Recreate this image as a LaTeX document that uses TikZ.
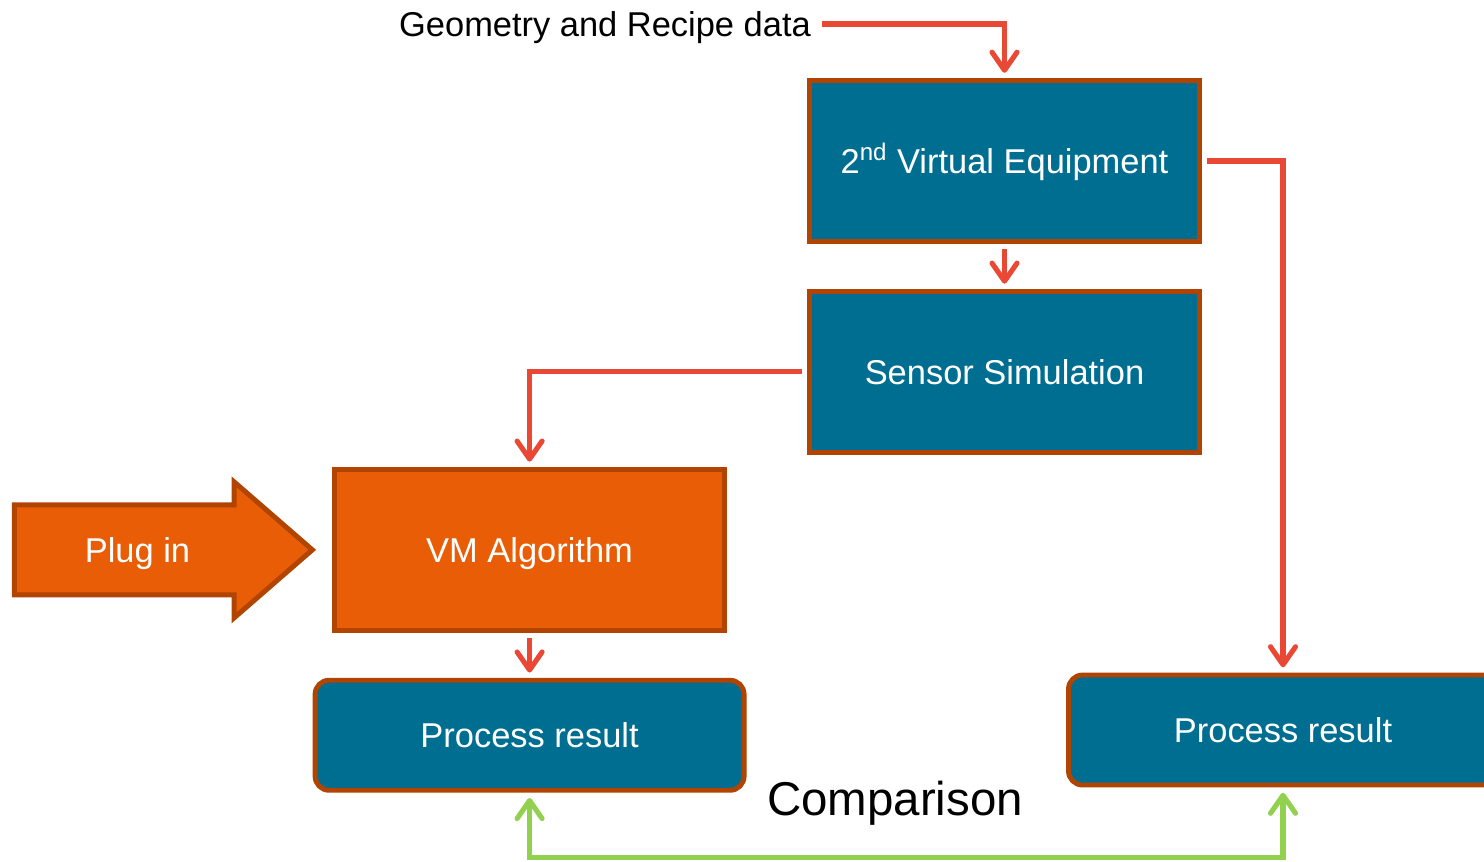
\documentclass[tikz,border=0pt]{standalone}
\usepackage{fontspec}
\setmainfont{Liberation Sans}
\usepackage{tikz}
\usetikzlibrary{arrows.meta,positioning,shapes.arrows}
\definecolor{vmblue}{RGB}{0,110,145}
\definecolor{vmorange}{RGB}{232,93,5}
\definecolor{vmedge}{RGB}{176,68,0}
\definecolor{linkred}{RGB}{232,72,52}
\definecolor{cmpgreen}{RGB}{146,208,80}

\begin{document}
\begin{tikzpicture}[
  node distance=0.9cm,
  unit/.style={rectangle, draw=vmedge, fill=vmblue, line width=2.8pt,
    text=white, align=center, minimum width=7.8cm, minimum height=3.22cm,
    text height=14pt, text depth=0pt,
    font=\fontsize{19.6}{23}\selectfont},
  algo/.style={unit, fill=vmorange},
  result/.style={unit, rounded corners=8pt, minimum width=8.58cm,
    minimum height=2.2cm},
  plugarrow/.style={single arrow, draw=vmedge, fill=vmorange,
    line width=2.8pt, text=white, font=\fontsize{19.6}{23}\selectfont,
    text height=14pt, text depth=0pt, inner ysep=17.2pt,
    minimum height=5.96cm, minimum width=2.62cm,
    single arrow head extend=0.46cm, single arrow tip angle=82},
  note/.style={font=\fontsize{19.6}{23}\selectfont,
    text height=14pt, text depth=0pt},
  link/.style={-{Straight Barb[length=3.6mm, width=5mm, round]},
    line width=2.9pt, draw=linkred, shorten <=3pt, shorten >=3pt},
  compare/.style={{Straight Barb[length=3.6mm, width=5mm, round]}-{Straight Barb[length=3.6mm, width=5mm, round]},
    line width=2.9pt, draw=cmpgreen, shorten <=3pt, shorten >=3pt}
]
\path[use as bounding box, clip] (0,0) rectangle (29.68,-17.22);

\node[unit] (ve) at (20.09,-3.22) {2\textsuperscript{nd} Virtual Equipment};
\node[unit, below=of ve] (sensor) {Sensor Simulation};
\node[algo, below left=0.24cm and 1.6cm of sensor] (vm) {VM Algorithm};
\node[result, below=of vm] (pr1) {Process result};
\node[result] (pr2) at (25.66,-14.6) {Process result};
\node[plugarrow, left=0.32cm of vm] (plug) {Plug in};
\node[note] (geom) at (12.1,-0.48) {Geometry and Recipe data};
\node[font=\fontsize{27}{32}\selectfont] (cmp) at (17.9,-16.06) {Comparison};

\draw[link] (geom.east) -| (ve.north);
\draw[link] (ve) -- (sensor);
\draw[link] (sensor.west) -| (vm.north);
\draw[link] (vm) -- (pr1);
\draw[link] (ve.east) -| (pr2.north);
\draw[compare] (pr1.south) -- ++(0,-1.3) -| (pr2.south);
\end{tikzpicture}
\end{document}
